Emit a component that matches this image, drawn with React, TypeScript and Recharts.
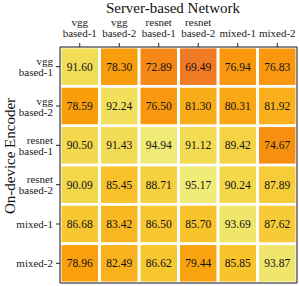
import React from 'react';
import { ReferenceArea, Scatter, ScatterChart, XAxis, YAxis } from 'recharts';

const serverNets = ['vgg\nbased-1', 'vgg\nbased-2', 'resnet\nbased-1', 'resnet\nbased-2', 'mixed-1', 'mixed-2'];
const encoders = ['vgg\nbased-1', 'vgg\nbased-2', 'resnet\nbased-1', 'resnet\nbased-2', 'mixed-1', 'mixed-2'];

const rowVggB1 = [91.6, 78.3, 72.89, 69.49, 76.94, 76.83];
const rowVggB2 = [78.59, 92.24, 76.5, 81.3, 80.31, 81.92];
const rowResB1 = [90.5, 91.43, 94.94, 91.12, 89.42, 74.67];
const rowResB2 = [90.09, 85.45, 88.71, 95.17, 90.24, 87.89];
const rowMixed1 = [86.68, 83.42, 86.5, 85.7, 93.69, 87.62];
const rowMixed2 = [78.96, 82.49, 86.62, 79.44, 85.85, 93.87];
const rows = [rowVggB1, rowVggB2, rowResB1, rowResB2, rowMixed1, rowMixed2];

const FONT = 'Liberation Serif, Times New Roman, serif';
const CELL = 237 / 6;

// color stops picked from the reference colormap
const STOPS: [number, number[]][] = [
  [69.49, [241, 122, 36]],
  [74.5, [247, 143, 16]],
  [78.5, [250, 158, 12]],
  [82, [249, 176, 28]],
  [86, [248, 196, 44]],
  [90, [244, 214, 72]],
  [95.17, [239, 236, 120]],
];

function colorFor(v: number): string {
  for (let i = 0; i < STOPS.length - 1; i++) {
    const [a, ca] = STOPS[i];
    const [b, cb] = STOPS[i + 1];
    if (v <= b || i === STOPS.length - 2) {
      const t = Math.max(0, Math.min(1, (v - a) / (b - a)));
      const c = ca.map((x, k) => Math.round(x + (cb[k] - x) * t));
      return `rgb(${c[0]},${c[1]},${c[2]})`;
    }
  }
  return '#fff';
}

const data = rows.flatMap((r, y) => r.map((v, x) => ({ x, y, v })));

const HeatCell = (props: any) => {
  const { cx, cy, payload } = props;
  const pad = 1.5;
  return (
    <g>
      <rect
        x={cx - CELL / 2 + pad}
        y={cy - CELL / 2 + pad}
        width={CELL - pad * 2}
        height={CELL - pad * 2}
        fill={colorFor(payload.v)}
      />
      <text x={cx} y={cy + 4} textAnchor="middle" fontSize={11.5} style={{ fontFamily: FONT }} fill="#111">
        {payload.v.toFixed(2)}
      </text>
    </g>
  );
};

const TopTick = ({ x, payload }: any) => {
  const lines = serverNets[payload.value].split('\n');
  return (
    <text x={x} textAnchor="middle" fontSize={11} style={{ fontFamily: FONT }} fill="#222">
      {lines.map((l, i) => (
        <tspan key={l} x={x} y={37 - (lines.length - 1 - i) * 11}>
          {l}
        </tspan>
      ))}
    </text>
  );
};

const LeftTick = ({ y, payload }: any) => {
  const lines = encoders[payload.value].split('\n');
  const first = y + 4 - ((lines.length - 1) * 11) / 2;
  return (
    <text textAnchor="end" fontSize={11} style={{ fontFamily: FONT }} fill="#222">
      {lines.map((l, i) => (
        <tspan key={l} x={53} y={first + i * 11}>
          {l}
        </tspan>
      ))}
    </text>
  );
};

const TopTitle = () => (
  <text x={173} y={13} textAnchor="middle" fontSize={15} style={{ fontFamily: FONT }} fill="#111">
    Server-based Network
  </text>
);

const LeftTitle = () => (
  <text
    x={15}
    y={156}
    textAnchor="middle"
    fontSize={15}
    transform="rotate(-90 15 156)"
    style={{ fontFamily: FONT }}
    fill="#111"
  >
    On-device Encoder
  </text>
);

export default function App(): React.ReactElement {
  return (
    <div style={{ position: 'absolute', left: 0, top: 0, background: '#fff' }}>
      <ScatterChart width={299} height={286} margin={{ top: 0, right: 2, bottom: 3, left: 0 }}>
        <XAxis
          type="number"
          dataKey="x"
          orientation="top"
          domain={[-0.5, 5.5]}
          ticks={[0, 1, 2, 3, 4, 5]}
          height={47}
          tickSize={4}
          axisLine={false}
          tickLine={{ stroke: '#222' }}
          tick={<TopTick />}
          interval={0}
          label={{ content: <TopTitle /> }}
        />
        <YAxis
          type="number"
          dataKey="y"
          domain={[-0.5, 5.5]}
          reversed
          ticks={[0, 1, 2, 3, 4, 5]}
          width={60}
          tickSize={4}
          axisLine={false}
          tickLine={{ stroke: '#222' }}
          tick={<LeftTick />}
          interval={0}
          label={{ content: <LeftTitle /> }}
        />
        <Scatter data={data} shape={<HeatCell />} isAnimationActive={false} />
        <ReferenceArea x1={-0.5} x2={5.5} y1={-0.5} y2={5.5} fill="none" stroke="#111" strokeWidth={1} ifOverflow="visible" />
      </ScatterChart>
    </div>
  );
}
